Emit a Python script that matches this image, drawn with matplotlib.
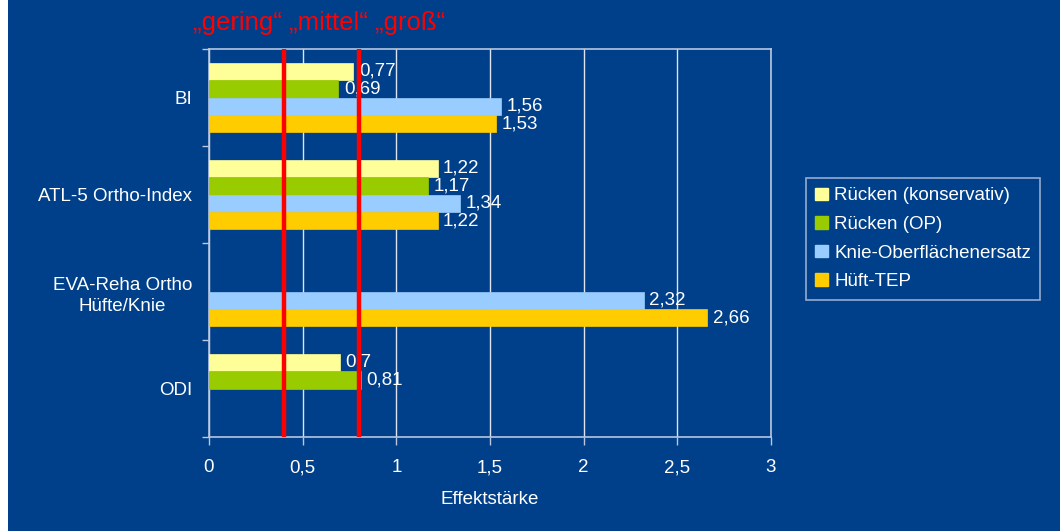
import numpy as np
import matplotlib
matplotlib.use("Agg")
import matplotlib.pyplot as plt
from matplotlib.patches import Patch, Rectangle

plt.rcParams['font.family'] = ['Liberation Sans', 'DejaVu Sans']

categories = ["BI", "ATL-5 Ortho-Index", "EVA-Reha Ortho\nHüfte/Knie", "ODI"]
series_names = ["Rücken (konservativ)", "Rücken (OP)", "Knie-Oberflächenersatz", "Hüft-TEP"]
ruecken_konservativ = [0.77, 1.22, np.nan, 0.7]
ruecken_op = [0.69, 1.17, np.nan, 0.81]
knie = [1.56, 1.34, 2.32, np.nan]
hueft_tep = [1.53, 1.22, 2.66, np.nan]
series_values = [ruecken_konservativ, ruecken_op, knie, hueft_tep]
series_colors = ["#FFFF99", "#99CC00", "#99CCFF", "#FFCC00"]

thresholds = [0.4, 0.8]
threshold_text = "\u201egering\u201c \u201emittel\u201c \u201egro\u00df\u201c"
xticks = [0, 0.5, 1, 1.5, 2, 2.5, 3]
xlabel = "Effektstärke"

bg = "#00408A"
line_col = "#B8C6E0"
fs = 13.5

fig = plt.figure(figsize=(10.6, 5.31), dpi=100, facecolor=bg)
fig.patches.append(Rectangle((0, 0), 8 / 1060, 1, transform=fig.transFigure,
                             facecolor="white", edgecolor="none", zorder=0))
ax = fig.add_axes([209 / 1060, 1 - 437 / 531, (771 - 209) / 1060, (437 - 49) / 531])
ax.set_facecolor(bg)

bar_h = 0.18
y_centers = np.arange(len(categories))
for i, (vals, col, name) in enumerate(zip(series_values, series_colors, series_names)):
    ypos = y_centers - 1.5 * bar_h + i * bar_h
    ax.barh(ypos, vals, height=bar_h, color=col, edgecolor=col, linewidth=0.5,
            label=name, zorder=3)
    for y, v in zip(ypos, vals):
        if np.isnan(v):
            continue
        ax.annotate(str(v).replace('.', ','), xy=(v, y), xytext=(4, 0),
                    textcoords="offset points", ha="left", va="center",
                    color="white", fontsize=fs, zorder=4)

for t in thresholds:
    ax.axvline(t, color="#FF0000", lw=3.2, zorder=5)

ax.set_xlim(0, 3)
ax.set_ylim(len(categories) - 0.5, -0.5)
ax.set_xticks(xticks)
ax.set_xticklabels([str(t).replace('.', ',') if t % 1 else str(int(t)) for t in xticks])
ax.xaxis.grid(True, color="#DDE4F0", lw=1, zorder=1)
ax.set_axisbelow(True)

ax.set_yticks(y_centers)
ax.set_yticklabels(categories, multialignment="center", linespacing=1.35)
ax.set_yticks(np.arange(-0.5, len(categories) + 0.5, 1), minor=True)
ax.tick_params(axis="y", which="major", length=0, pad=12, labelsize=fs, labelcolor="white")
ax.tick_params(axis="y", which="minor", length=5, color=line_col, width=1)
ax.tick_params(axis="x", length=6, color=line_col, width=1, pad=10,
               labelsize=fs, labelcolor="white")

for s in ax.spines.values():
    s.set_color(line_col)
    s.set_linewidth(1.2)

ax.set_xlabel(xlabel, color="white", fontsize=fs, labelpad=11)

fig.text(193 / 1060, 1 - 23 / 531, threshold_text, color="#FF0000", fontsize=18.5,
         ha="left", va="center")

handles = [Patch(facecolor=c, edgecolor=c, label=n) for c, n in zip(series_colors, series_names)]
leg = fig.legend(handles=handles, loc="upper left", bbox_to_anchor=(806 / 1060, 1 - 178 / 531),
                 frameon=True, fancybox=False, facecolor=bg, edgecolor=line_col,
                 fontsize=fs, labelcolor="white", handlelength=0.65, handleheight=0.65,
                 handletextpad=0.35, labelspacing=0.62, borderpad=0.5, borderaxespad=0)
leg.get_frame().set_linewidth(1.2)

fig.savefig("out.png", dpi=100, facecolor=bg)
